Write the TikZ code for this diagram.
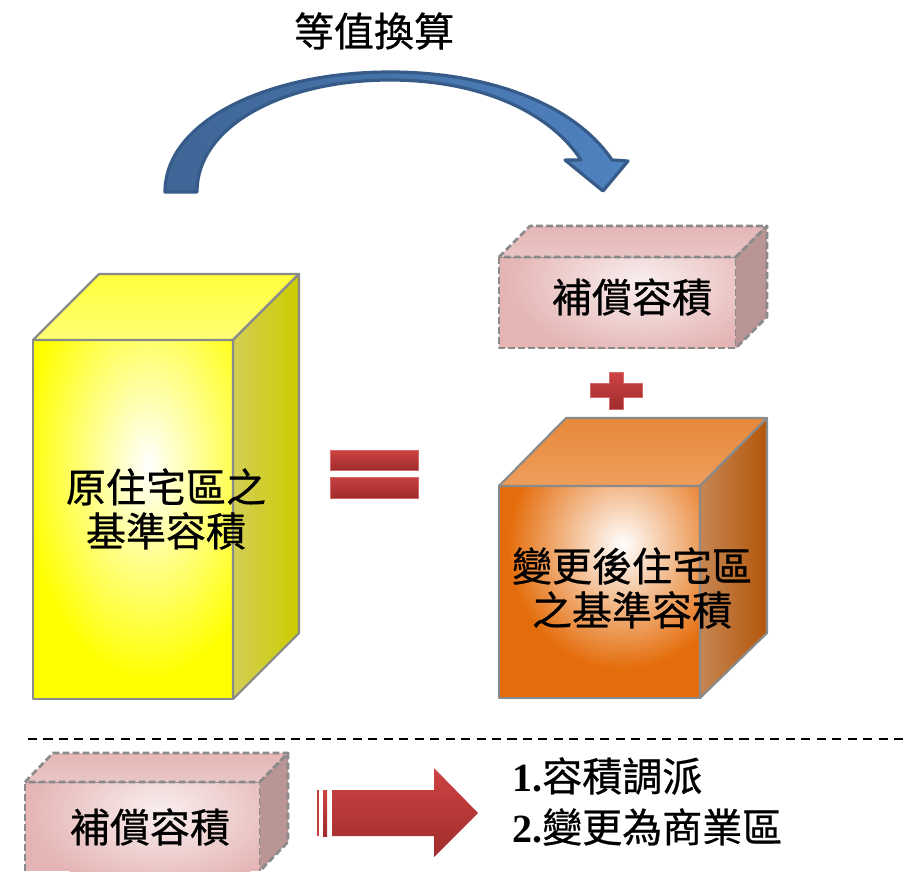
\documentclass[tikz,border=0pt]{standalone}
\usepackage{fontspec}
\setmainfont{Liberation Serif}
\newfontfamily\cjk[FakeBold=0.7]{Noto Sans CJK TC}
\definecolor{edgegray}{HTML}{8A8A8A}
\definecolor{ylw}{HTML}{FFFF00}
\definecolor{ylwtop}{HTML}{FFFF3A}
\definecolor{ylwside}{HTML}{CCCC00}
\definecolor{ylwsidel}{HTML}{D4CE55}
\definecolor{org}{HTML}{E46C0A}
\definecolor{orgtopA}{HTML}{E8883A}
\definecolor{orgtopB}{HTML}{ED9E5C}
\definecolor{orgside}{HTML}{B3570A}
\definecolor{orgsidel}{HTML}{C68653}
\definecolor{pnk}{HTML}{E4B5B4}
\definecolor{pnkin}{HTML}{FAEFEF}
\definecolor{pnktop}{HTML}{EAC6C6}
\definecolor{pnkside}{HTML}{BA9595}
\definecolor{redA}{HTML}{CE4343}
\definecolor{redB}{HTML}{A02C2C}
\definecolor{redE}{HTML}{D46A6A}
\definecolor{blueA}{HTML}{3E6696}
\definecolor{blueB}{HTML}{4F82C0}
\definecolor{blueE}{HTML}{375B88}
\tikzset{
  boxedge/.style={draw=edgegray, line width=1.6pt, line join=round},
  dashedge/.style={draw=edgegray, line width=2pt, dash pattern=on 5pt off 2.5pt, line join=round},
  cjklabel/.style={font=\cjk\fontsize{30}{33}\selectfont, align=center, inner sep=0pt},
  redshape/.style={top color=redA, bottom color=redB, draw=redE, line width=0.6pt}
}
\begin{document}
\begin{tikzpicture}[x=0.75pt,y=-0.75pt]
\useasboundingbox (0,0) rectangle (908,872);
\begin{scope}
\clip (0,0) rectangle (908,872);

% ---------- top curved arrow ----------
\shade[left color=blueA, right color=blueB, draw=blueE, line width=2.4pt, line join=round]
  (165,192) .. controls (165,120) and (270,72) .. (390,72)
  .. controls (490,72) and (575,105) .. (612,160)
  -- (628,161) -- (603,191) -- (565,160) -- (581,160)
  .. controls (550,112) and (480,80) .. (390,80)
  .. controls (285,80) and (197,125) .. (197,192) -- cycle;
\node[cjklabel] (title) at (374,31) {等值換算};

% ---------- yellow box ----------
\fill[ylw] (33,340) rectangle (233,699);
\begin{scope}
  \clip (33,340) rectangle (233,699);
  \shade[inner color=white, outer color=ylw] (148,465) ellipse (125 and 215);
\end{scope}
\draw[boxedge] (33,340) rectangle (233,699);
\shade[top color=ylwtop, bottom color=ylwtop!70!white, boxedge] (33,340) -- (99,274) -- (299,274) -- (233,340) -- cycle;
\shade[left color=ylwsidel, right color=ylwside, boxedge] (233,340) -- (299,274) -- (299,633) -- (233,699) -- cycle;
\node[cjklabel] (yl) at (166,509) {原住宅區之\\基準容積};

% ---------- equals ----------
\shade[redshape] (330,450) rectangle (418,470);
\shade[top color=redA!85!redB, bottom color=redB, draw=redE, line width=0.6pt] (330,477) rectangle (418,498);

% ---------- top pink box ----------
\fill[pnk] (499,257) rectangle (736,348);
\begin{scope}
  \clip (499,257) rectangle (736,348);
  \shade[inner color=pnkin, outer color=pnk] (640,282) ellipse (135 and 75);
\end{scope}
\draw[dashedge] (499,257) rectangle (736,348);
\shade[top color=pnk, bottom color=pnktop, dashedge] (499,257) -- (530,226) -- (767,226) -- (736,257) -- cycle;
\fill[pnkside] (736,257) -- (767,226) -- (767,317) -- (736,348) -- cycle;
\draw[dashedge] (736,257) -- (767,226) -- (767,317) -- (736,348);
\node[cjklabel] (pt) at (632,297) {補償容積};

% ---------- plus ----------
\shade[redshape] (609,372) -- (623,372) -- (623,383) -- (642,383) -- (642,397) -- (623,397)
  -- (623,409) -- (609,409) -- (609,397) -- (590,397) -- (590,383) -- (609,383) -- cycle;

% ---------- orange box ----------
\fill[org] (499,486) rectangle (700,698);
\begin{scope}
  \clip (499,486) rectangle (700,698);
  \shade[inner color=white, outer color=org] (622,545) ellipse (115 and 125);
\end{scope}
\draw[boxedge] (499,486) rectangle (700,698);
\shade[top color=orgtopA, bottom color=orgtopB, boxedge] (499,486) -- (566,418) -- (767,418) -- (700,486) -- cycle;
\shade[left color=orgsidel, right color=orgside, boxedge] (700,486) -- (767,418) -- (767,633) -- (700,698) -- cycle;
\node[cjklabel] (ol) at (632,588) {變更後住宅區\\之基準容積};

% ---------- separator ----------
\coordinate (sepL) at (28,739);
\coordinate (sepR) at (908,739);
\draw[black, line width=2.2pt, dash pattern=on 6.8pt off 4.8pt] (sepL) -- (sepR);

% ---------- bottom pink box ----------
\fill[pnk] (25,782) rectangle (260,871);
\begin{scope}
  \clip (25,782) rectangle (260,871);
  \shade[inner color=pnkin, outer color=pnk] (160,812) ellipse (135 and 80);
\end{scope}
\draw[dashedge] (25,871) -- (25,782) -- (260,782) -- (260,871);
\shade[top color=pnk, bottom color=pnktop, dashedge] (25,782) -- (53,753) -- (288,753) -- (260,782) -- cycle;
\fill[pnkside] (260,782) -- (288,753) -- (288,842) -- (260,871) -- cycle;
\draw[dashedge] (260,782) -- (288,753) -- (288,842) -- (260,871);
\node[cjklabel] (pb) at (150,827) {補償容積};

% ---------- red arrow ----------
\fill[redA!80!redB] (317,790) rectangle (318.5,836);
\shade[top color=redA, bottom color=redB] (323,790) rectangle (327,836);
\shade[top color=redA, bottom color=redB]
  (332,790) -- (434,790) -- (434,768) -- (478,813) -- (434,857) -- (434,836) -- (332,836) -- cycle;

% ---------- list ----------
\node[anchor=west, inner sep=0pt, font=\fontsize{30}{33}\selectfont] (l1) at (512,776) {\bfseries 1.\cjk\mdseries 容積調派};
\node[anchor=west, inner sep=0pt, font=\fontsize{30}{33}\selectfont] (l2) at (512,827) {\bfseries 2.\cjk\mdseries 變更為商業區};
\end{scope}
\end{tikzpicture}
\end{document}
